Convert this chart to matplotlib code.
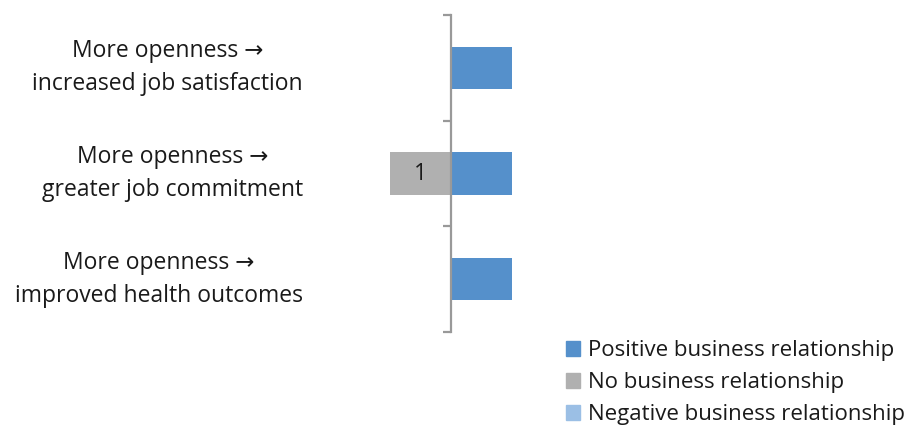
#!/usr/bin/env python3
"""Diverging bar chart: openness outcomes vs business relationship."""

import matplotlib.pyplot as plt
from matplotlib.patches import Patch
import numpy as np

plt.rcParams['font.family'] = ['Open Sans', 'DejaVu Sans']

BLUE = '#5590CB'
GREY = '#B0B0B0'
LIGHT_BLUE = '#9BBFE5'
AXIS = '#999999'
TEXT = '#1a1a1a'

categories = ['More openness \u2192\nincreased job satisfaction',
              'More openness \u2192\ngreater job commitment',
              'More openness \u2192\nimproved health outcomes']
positive = [1, 1, 1]
no_relation = [0, 1, 0]
negative = [0, 0, 0]
series_names = ['Positive business relationship', 'No business relationship',
                'Negative business relationship']

W, H = 916, 429
fig = plt.figure(figsize=(W / 100, H / 100), dpi=100)
# plot area in pixels: x from 390 (-1) to 573 (2), y from 15 to 332
ax = fig.add_axes([390 / W, (H - 332) / H, 183 / W, 317 / H])

y = np.arange(len(categories))
none_vals = -np.array(no_relation)
neg_vals = -np.array(negative)

ax.barh(y, positive, height=0.4, color=BLUE, zorder=2)
b_none = ax.barh(y, none_vals, height=0.4, color=GREY, zorder=2)
ax.barh(y, neg_vals, left=none_vals, height=0.4, color=LIGHT_BLUE, zorder=2)

for rect, v in zip(b_none, no_relation):
    if v:
        ax.text(rect.get_x() + rect.get_width() / 2, rect.get_y() + rect.get_height() / 2,
                str(v), ha='center', va='center', fontsize=16.5, color=TEXT)

ax.set_xlim(-1, 2)
ax.set_ylim(len(categories) - 0.5, -0.5)

for s in ['top', 'right', 'bottom']:
    ax.spines[s].set_visible(False)
ax.spines['left'].set_position(('data', 0))
ax.spines['left'].set_color(AXIS)
ax.spines['left'].set_linewidth(1.6)
ax.set_xticks([])

ax.set_yticks(y)
ax.set_yticklabels(categories, fontsize=16.5, color=TEXT, multialignment='center',
                   linespacing=1.5, va='center')
ax.tick_params(axis='y', which='major', length=0, pad=106.5)
ax.set_yticks(np.arange(len(categories) + 1) - 0.5, minor=True)
ax.tick_params(axis='y', which='minor', length=6, width=1.6, color=AXIS)

handles = [Patch(color=c) for c in (BLUE, GREY, LIGHT_BLUE)]
fig.legend(handles, series_names, loc='upper left', bbox_to_anchor=(557 / W, 1 - 331 / H),
           frameon=False, fontsize=16, handlelength=0.65, handleheight=0.65,
           handletextpad=0.35, labelspacing=0.5, labelcolor=TEXT, borderaxespad=0)

fig.savefig('out.png', dpi=100, facecolor='white')
